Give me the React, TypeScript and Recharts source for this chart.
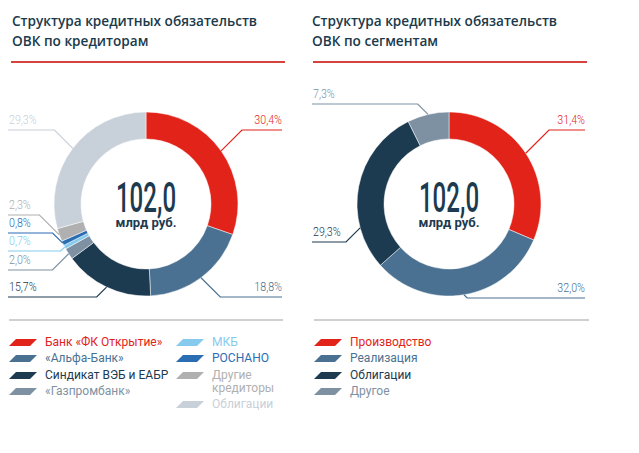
import { PieChart, Pie, Cell } from "recharts";

const creditorNames = [
  "Банк «ФК Открытие»",
  "«Альфа-Банк»",
  "Синдикат ВЭБ и ЕАБР",
  "«Газпромбанк»",
  "МКБ",
  "РОСНАНО",
  "Другие кредиторы",
  "Облигации",
];
const creditorShares = [30.4, 18.8, 15.7, 2.0, 0.7, 0.8, 2.3, 29.3];

const segmentNames = ["Производство", "Реализация", "Облигации", "Другое"];
const segmentShares = [31.4, 32.0, 29.3, 7.3];

const totalDebt = "102,0";
const totalUnit = "млрд руб.";

const RED = "#e2231a";
const BLUE = "#4a7191";
const NAVY = "#1c3a50";
const STEEL = "#7d91a3";

const creditorColors = [RED, BLUE, NAVY, STEEL, "#86cbee", "#2a6db3", "#b0b0b0", "#c8d0d9"];
const segmentColors = [RED, BLUE, NAVY, STEEL];

// label rows (px from centre) and anchor shifts, per slice
const creditorRows = [-74, 93, 93, 66, 47, 29, 11, -74];
const segmentRows = [-74, 94, 38, -100];
const segmentShifts = [0, 0, 26, 0];

const RAD = Math.PI / 180;
const pct = (v: number) => v.toFixed(1).replace(".", ",") + "%";

function leaderLabel(
  shares: number[],
  colors: string[],
  rows: number[],
  shifts: number[],
  leftX: number,
  rightX: number
) {
  return (p: any) => {
    const i = p.index;
    const ang = p.midAngle + (shifts[i] || 0);
    const r = p.outerRadius;
    const ax = p.cx + r * Math.cos(-ang * RAD);
    const ay = p.cy + r * Math.sin(-ang * RAD);
    const ly = p.cy + rows[i];
    const right = Math.cos(-ang * RAD) >= 0;
    const dx = Math.abs(ly - ay);
    const ex = right ? ax + dx : ax - dx;
    const endX = right ? rightX : leftX;
    return (
      <g key={"lbl" + i}>
        <polyline
          points={`${ax},${ay} ${ex},${ly} ${endX},${ly}`}
          fill="none"
          stroke={colors[i]}
          strokeWidth={1.2}
        />
        <text
          transform={`translate(${right ? endX : leftX + 1},${ly - 6}) scale(0.82,1)`}
          textAnchor={right ? "end" : "start"}
          fontFamily="Roboto, sans-serif"
          fontWeight={300}
          fontSize={13}
          fill={colors[i]}
        >
          {pct(shares[i])}
        </text>
      </g>
    );
  };
}

function Centre({ x }: { x: number }) {
  return (
    <div
      style={{
        position: "absolute",
        left: x - 60,
        top: 182,
        width: 120,
        textAlign: "center",
        color: NAVY,
      }}
    >
      <div
        style={{
          fontFamily: "Roboto, sans-serif",
          fontWeight: 500,
          fontSize: 43,
          lineHeight: "30px",
          height: 30,
          transform: "scaleX(0.56)",
        }}
      >
        {totalDebt}
      </div>
      <div
        style={{
          fontFamily: "Roboto, sans-serif",
          fontWeight: 700,
          fontSize: 13,
          lineHeight: "10px",
          height: 10,
          marginTop: 5.5,
        }}
      >
        {totalUnit}
      </div>
    </div>
  );
}

function Swatch({ color }: { color: string }) {
  return (
    <svg width={28} height={7} style={{ position: "absolute", left: 0, top: 3 }}>
      <polygon points="7,0 28,0 21,7 0,7" fill={color} />
    </svg>
  );
}

function LegendColumn({
  names,
  colors,
  left,
  width,
}: {
  names: string[];
  colors: string[];
  left: number;
  width: number;
}) {
  return (
    <div style={{ position: "absolute", left, top: 336, width }}>
      {names.map((n, i) => (
        <div
          key={n}
          style={{
            position: "relative",
            paddingLeft: 36,
            fontFamily: "Roboto, sans-serif",
            fontSize: 12,
            lineHeight: "13px",
            marginBottom: 3.3,
            color: colors[i],
          }}
        >
          <Swatch color={colors[i]} />
          {n}
        </div>
      ))}
    </div>
  );
}

function Title({ left, lines }: { left: number; lines: string[] }) {
  return (
    <div
      style={{
        position: "absolute",
        left,
        top: 11,
        fontFamily: "'Open Sans', sans-serif",
        fontWeight: 600,
        fontSize: 13.6,
        lineHeight: "20px",
        color: "#1b3a4b",
        whiteSpace: "nowrap",
      }}
    >
      {lines.map((l) => (
        <div key={l}>{l}</div>
      ))}
    </div>
  );
}

function Rule({ left, top, width, color }: { left: number; top: number; width: number; color: string }) {
  return <div style={{ position: "absolute", left, top, width, height: 2, background: color }} />;
}

const noMargin = { top: 0, right: 0, bottom: 0, left: 0 };

export default function App() {
  return (
    <div style={{ position: "relative", width: 639, height: 453, background: "#fff", overflow: "hidden" }}>
      <style>{"body{margin:0}"}</style>

      <Title left={12} lines={["Структура кредитных обязательств", "ОВК по кредиторам"]} />
      <Title left={312} lines={["Структура кредитных обязательств", "ОВК по сегментам"]} />
      <Rule left={11} top={61} width={274} color="#d4443c" />
      <Rule left={313} top={61} width={274} color="#d4443c" />

      <div style={{ position: "absolute", left: 0, top: 0 }}>
        <PieChart width={300} height={320} margin={noMargin}>
          <Pie
            data={creditorNames.map((name, i) => ({ name, value: creditorShares[i] }))}
            dataKey="value"
            cx={146}
            cy={204}
            innerRadius={65}
            outerRadius={92}
            startAngle={90}
            endAngle={-270}
            stroke="#fff"
            strokeWidth={0.5}
            labelLine={false}
            label={leaderLabel(creditorShares, creditorColors, creditorRows, [], 8, 282)}
            isAnimationActive={false}
          >
            {creditorNames.map((n, i) => (
              <Cell key={n} fill={creditorColors[i]} />
            ))}
          </Pie>
        </PieChart>
      </div>

      <div style={{ position: "absolute", left: 300, top: 0 }}>
        <PieChart width={339} height={320} margin={noMargin}>
          <Pie
            data={segmentNames.map((name, i) => ({ name, value: segmentShares[i] }))}
            dataKey="value"
            cx={149}
            cy={204}
            innerRadius={65}
            outerRadius={92}
            startAngle={90}
            endAngle={-270}
            stroke="#fff"
            strokeWidth={0.5}
            labelLine={false}
            label={leaderLabel(segmentShares, segmentColors, segmentRows, segmentShifts, 12, 285)}
            isAnimationActive={false}
          >
            {segmentNames.map((n, i) => (
              <Cell key={n} fill={segmentColors[i]} />
            ))}
          </Pie>
        </PieChart>
      </div>

      <Centre x={146} />
      <Centre x={449} />

      <Rule left={9} top={319} width={274} color="#d0d0d0" />
      <Rule left={314} top={319} width={275} color="#d0d0d0" />

      <LegendColumn names={creditorNames.slice(0, 4)} colors={creditorColors.slice(0, 4)} left={9} width={170} />
      <LegendColumn names={creditorNames.slice(4)} colors={creditorColors.slice(4)} left={176} width={100} />
      <LegendColumn names={segmentNames} colors={segmentColors} left={314} width={200} />
    </div>
  );
}
